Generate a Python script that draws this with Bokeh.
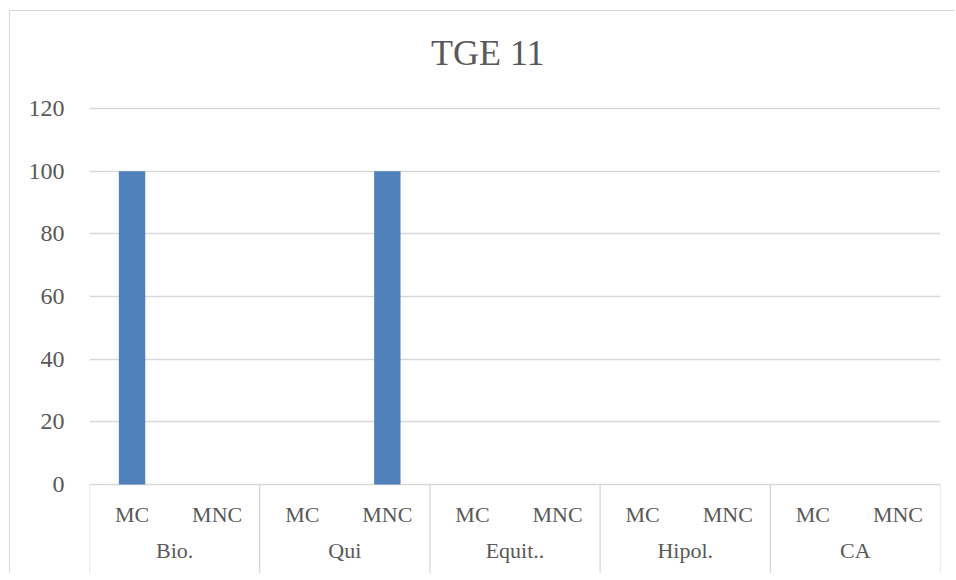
from bokeh.plotting import figure
from bokeh.models import FactorRange, Range1d, FixedTicker, ColumnDataSource
from bokeh.core.properties import value
from bokeh.embed import file_html
from bokeh.resources import INLINE

title_text = "TGE 11"
groups = ["Bio.", "Qui", "Equit..", "Hipol.", "CA"]
subs = ["MC", "MNC"]
mc_values = [100, 0, 0, 0, 0]
mnc_values = [0, 100, 0, 0, 0]
y_ticks = [0, 20, 40, 60, 80, 100, 120]

FONT = value("Liberation Serif")
TXT = "#595959"
GRID = "#d9d9d9"
BAR = "#4f81bd"

factors = [(g, s) for g in groups for s in subs]
vals = []
for a, b in zip(mc_values, mnc_values):
    vals += [a, b]

y_bottom = -28.75
y_top = 151.06
p = figure(width=946, height=563, output_backend="svg", toolbar_location=None, title=None,
           x_range=FactorRange(*factors, group_padding=0, subgroup_padding=0, factor_padding=0, range_padding=0),
           y_range=Range1d(y_bottom, y_top),
           min_border_left=79, min_border_right=16, min_border_top=0, min_border_bottom=0)
p.outline_line_color = None
p.background_fill_color = "white"
p.border_fill_color = "white"
p.styles = {"margin-left": "9px", "margin-top": "10px",
            "border-left": "1px solid #d9d9d9", "border-top": "1px solid #d9d9d9"}

p.xaxis.visible = False
p.xgrid.visible = False
p.yaxis.ticker = FixedTicker(ticks=y_ticks)
p.yaxis.axis_line_color = None
p.yaxis.major_tick_line_color = None
p.yaxis.minor_tick_line_color = None
p.yaxis.major_label_standoff = 19
p.yaxis.major_label_text_font = "Liberation Serif"
p.yaxis.major_label_text_font_size = "24px"
p.yaxis.major_label_text_color = TXT
p.ygrid.ticker = FixedTicker(ticks=y_ticks)
p.ygrid.grid_line_color = GRID
p.ygrid.grid_line_width = 1.3

src = ColumnDataSource(dict(x=factors, top=vals))
p.vbar(x="x", top="top", width=0.31, source=src, fill_color=BAR, line_color=None)

# separators in the category axis area
sep_x = [(g, subs[0], -0.5) for g in groups] + [(groups[-1], subs[-1], 0.5)]
p.segment(x0=sep_x, y0=[0] * len(sep_x), x1=sep_x, y1=[y_bottom] * len(sep_x),
          line_color=GRID, line_width=1.3)

# sub-category labels and group labels
p.text(x=factors, y=[-9.6] * len(factors), text=[f[1] for f in factors],
       text_font=FONT, text_font_size="22px", text_color=TXT,
       text_align="center", text_baseline="middle")
p.text(x=groups, y=[-21.2] * len(groups), text=groups,
       text_font=FONT, text_font_size="22px", text_color=TXT,
       text_align="center", text_baseline="middle")

# chart title
p.text(x=[(groups[2], subs[0], 0.18)], y=[137.7], text=[title_text],
       text_font=FONT, text_font_size="36px", text_color=TXT,
       text_align="center", text_baseline="middle")

open("out.html", "w").write(file_html(p, INLINE))
